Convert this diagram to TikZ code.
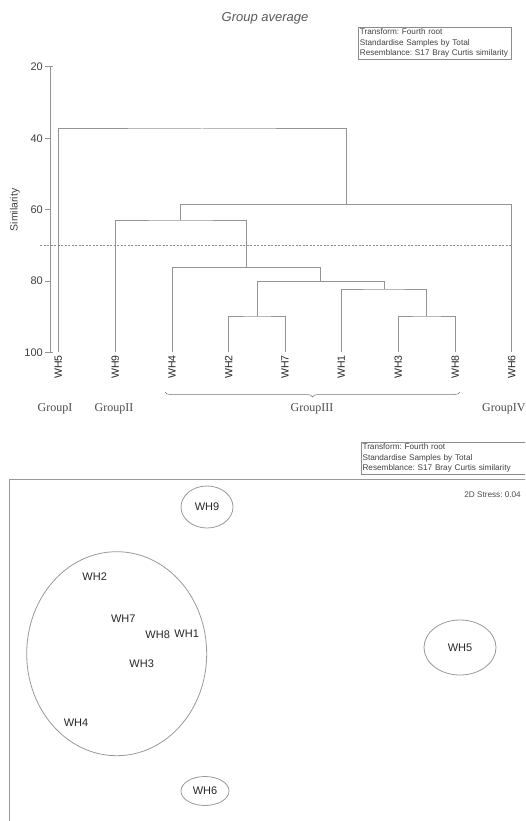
\documentclass[tikz,border=0pt]{standalone}
\usepackage{xcolor}
\usepackage{fontspec}
\setmainfont{Liberation Serif}
\setsansfont{Liberation Sans}
\usepackage{tikz}
\usetikzlibrary{shapes.geometric, positioning, calc, decorations.pathreplacing}
\tikzset{every node/.append style={align=center, inner sep=1pt}}
\frenchspacing

\begin{document}
\begin{tikzpicture}[x=1pt, y=-1pt,
    font=\sffamily\fontsize{10.5}{12}\selectfont,
    br/.style={draw=black!42, line width=1pt},
    tk/.style={font=\sffamily\fontsize{11}{12}\selectfont, text=black!75, inner sep=0pt},
    lf/.style={font=\sffamily\fontsize{10.5}{12}\selectfont, text=black!85,
        rotate=90, anchor=east, inner sep=0pt},
    grp/.style={font=\rmfamily\fontsize{12}{13}\selectfont, text=black!70},
    info/.style={rectangle, draw=black!45, line width=0.7pt, anchor=north west,
        font=\sffamily\fontsize{8.2}{10.6}\selectfont, text=black!75, align=left, inner sep=1.5pt},
    pt/.style={font=\sffamily\fontsize{11}{12}\selectfont, text=black!85, inner sep=0pt},
    ring/.style={ellipse, draw=black!40, line width=0.8pt, inner sep=0pt}
]
\useasboundingbox (0,0) rectangle (525,821);
\clip (0,0) rectangle (525,821);

% ===== DENDROGRAM (top) =====
\node[font=\sffamily\itshape\fontsize{13}{14}\selectfont, text=black!65] (ttl) at (265,18) {Group average};
\node[info, text width=150pt] (inf1) at (358,27)
    {Transform: Fourth root\\Standardise Samples by Total\\Resemblance: S17 Bray Curtis similarity};

% axis
\coordinate (a20) at (50,67);
\coordinate (a40) at (50,138.3);
\coordinate (a60) at (50,209.6);
\coordinate (a80) at (50,281);
\coordinate (a100) at (50,352.3);
\draw[br] (a20) -- (a100);
\draw[br] ([xshift=-5pt]a20) -- ([xshift=3pt]a20);
\draw[br] ([xshift=-5pt]a40) -- (a40);
\draw[br] ([xshift=-5pt]a60) -- (a60);
\draw[br] ([xshift=-5pt]a80) -- (a80);
\draw[br] ([xshift=-5pt]a100) -- ([xshift=3pt]a100);
\node[tk, left=7pt of a20] (t20) {20};
\node[tk, left=7pt of a40] (t40) {40};
\node[tk, left=7pt of a60] (t60) {60};
\node[tk, left=7pt of a80] (t80) {80};
\node[tk, left=7pt of a100] (t100) {100};
\node[font=\sffamily\fontsize{10.5}{12}\selectfont, text=black!75, rotate=90] (ylab) at (15,210) {Similarity};

% leaves
\coordinate (l5) at (58.3,352.3);
\coordinate (l9) at (115.3,352.3);
\coordinate (l4) at (172,352.3);
\coordinate (l2) at (228.7,352.3);
\coordinate (l7) at (285,352.3);
\coordinate (l1) at (341.3,352.3);
\coordinate (l3) at (398.3,352.3);
\coordinate (l8) at (455.3,352.3);
\coordinate (l6) at (511.7,352.3);
\node[lf] (n5) at ([yshift=-3pt]l5) {WH5};
\node[lf] (n9) at ([yshift=-3pt]l9) {WH9};
\node[lf] (n4) at ([yshift=-3pt]l4) {WH4};
\node[lf] (n2) at ([yshift=-3pt]l2) {WH2};
\node[lf] (n7) at ([yshift=-3pt]l7) {WH7};
\node[lf] (n1) at ([yshift=-3pt]l1) {WH1};
\node[lf] (n3) at ([yshift=-3pt]l3) {WH3};
\node[lf] (n8) at ([yshift=-3pt]l8) {WH8};
\node[lf] (n6) at ([yshift=-3pt]l6) {WH6};

% merges
\coordinate (m27) at (257,316);
\coordinate (m38) at (426.8,316);
\coordinate (m138) at (384,289);
\coordinate (mA) at (320.5,281.3);
\coordinate (mIII) at (246.2,267.3);
\coordinate (m9) at (180.8,220);
\coordinate (m6) at (346.2,204.3);
\coordinate (mall) at (202,129);
\draw[br] (l2) |- (m27) -| (l7);
\draw[br] (l3) |- (m38) -| (l8);
\draw[br] (l1) |- (m138) -| (m38);
\draw[br] (m27) |- (mA) -| (m138);
\draw[br] (l4) |- (mIII) -| (mA);
\draw[br] (l9) |- (m9) -| (mIII);
\draw[br] (m9) |- (m6) -| (l6);
\draw[br] (l5) |- (mall) -| (m6);

% cut level
\coordinate (c1) at (40,245);
\coordinate (c2) at (512,245);
\draw[black!45, line width=0.7pt, dash pattern=on 2pt off 1.5pt] (c1) -- (c2);

% groups
\coordinate (b1) at (165,392);
\coordinate (b2) at (460,392);
\draw[black!55, line width=0.5pt, decorate, decoration={brace, mirror, amplitude=5pt}] (b1) -- (b2);
\node[grp] (g1) at (55,409) {GroupI};
\node[grp] (g2) at (114,409) {GroupII};
\node[grp] (g3) at (312,409) {GroupIII};
\node[grp, anchor=west] (g4) at (481,409) {GroupIV};

% ===== MDS (bottom) =====
\node[info, text width=200pt] (inf2) at (360.7,442)
    {Transform: Fourth root\\Standardise Samples by Total\\Resemblance: S17 Bray Curtis similarity};
\draw[black!40, line width=1.2pt] (9.3,479.3) rectangle (600,900);
\node[font=\sffamily\fontsize{8.2}{10}\selectfont, text=black!70, anchor=east, inner sep=0pt] (st) at (521,495) {2D Stress: 0.04};

\node[ring, pt, minimum width=52pt, minimum height=42pt] (w9) at (207,507) {WH9};
\node[ring, minimum width=180pt, minimum height=204pt] (e3) at (116.7,653.7) {};
\node[ring, pt, minimum width=72pt, minimum height=55pt] (w5) at (460,647.5) {WH5};
\node[ring, pt, minimum width=48pt, minimum height=29pt] (w6) at (205,791) {WH6};

\node[pt] (w2) at (94.7,576.7) {WH2};
\node[pt] (w7) at (123.3,618.3) {WH7};
\node[pt] (w8) at (157.7,634.3) {WH8};
\node[pt] (w1) at (186.7,634) {WH1};
\node[pt] (w3) at (141.7,663.3) {WH3};
\node[pt] (w4) at (76,722.3) {WH4};
\end{tikzpicture}
\end{document}
